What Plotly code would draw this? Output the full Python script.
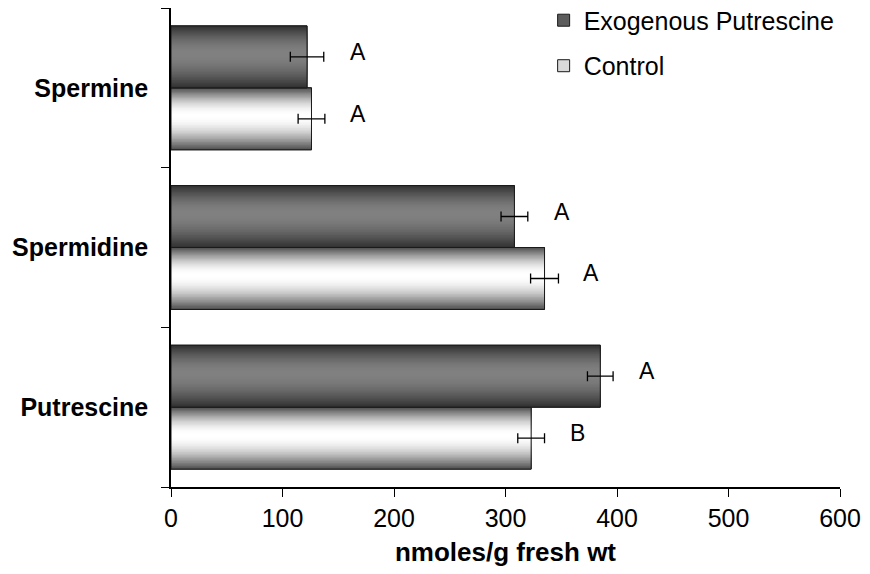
import math
import plotly.graph_objects as go

# ---- data ----
categories = ["Putrescine", "Spermidine", "Spermine"]          # bottom -> top
exo_values = [385, 308, 122]
exo_errors = [11.5, 12, 15]
exo_letters = ["A", "A", "A"]
ctrl_values = [323, 335, 126]
ctrl_errors = [12, 12.5, 12]
ctrl_letters = ["B", "A", "A"]
x_ticks = [0, 100, 200, 300, 400, 500, 600]

FONT = "Liberation Sans, Arial, sans-serif"
W = 0.388          # bar thickness (category units)
N = 22             # gradient layers
C_TOP = 0.45       # lightest line position, fraction from top of bar


def gray(v):
    v = int(round(max(0, min(255, v))))
    return f"rgb({v},{v},{v})"


fig = go.Figure()


def add_series(name, values, errors, base_offset, edge, center, legend_color, rank, group):
    # legend carrier (covered by gradient layers)
    fig.add_trace(go.Bar(
        y=categories, x=values, orientation="h", name=name,
        offset=base_offset, width=W,
        marker=dict(color=legend_color, line=dict(color="#1a1a1a", width=1)),
        legendrank=rank, legendgroup=group, showlegend=True, hoverinfo="skip"))
    # gradient layers
    for k in range(N):
        s = k / N
        smid = (k + 0.5) / N
        col = gray(edge + (center - edge) * math.sin(smid * math.pi / 2))
        fig.add_trace(go.Bar(
            y=categories, x=values, orientation="h",
            offset=base_offset + (1 - C_TOP) * W * s, width=W * (1 - s),
            marker=dict(color=col, line=dict(width=0)),
            showlegend=False, legendgroup=group, hoverinfo="skip"))
    # outline + error bars
    fig.add_trace(go.Bar(
        y=categories, x=values, orientation="h",
        offset=base_offset, width=W,
        marker=dict(color="rgba(0,0,0,0)", line=dict(color="#1a1a1a", width=1)),
        error_x=dict(type="data", array=errors, color="black", thickness=1.3, width=5),
        showlegend=False, legendgroup=group, name=name))


add_series("Control", ctrl_values, ctrl_errors, -W, 78, 255, "#d9d9d9", 2, "ctrl")
add_series("Exogenous Putrescine", exo_values, exo_errors, 0.0, 48, 128, "#5c5c5c", 1, "exo")

annotations = []
for i, cat in enumerate(categories):
    annotations.append(dict(x=exo_values[i] + exo_errors[i], y=i + W / 2, text=exo_letters[i],
                            xref="x", yref="y", showarrow=False, xshift=34, yshift=5,
                            font=dict(family=FONT, size=23, color="black")))
    annotations.append(dict(x=ctrl_values[i] + ctrl_errors[i], y=i - W / 2, text=ctrl_letters[i],
                            xref="x", yref="y", showarrow=False, xshift=33, yshift=5,
                            font=dict(family=FONT, size=23, color="black")))

fig.update_layout(
    width=870, height=574,
    margin=dict(l=171, r=30, t=8, b=87, autoexpand=False),
    barmode="overlay",
    plot_bgcolor="white", paper_bgcolor="white",
    font=dict(family=FONT, color="black"),
    showlegend=True,
    legend=dict(x=0.557, y=1.022, xanchor="left", yanchor="top",
                font=dict(family=FONT, size=25, color="black"),
                traceorder="grouped", tracegroupgap=10,
                bgcolor="rgba(0,0,0,0)"),
    annotations=annotations,
    xaxis=dict(range=[0, 600], tickvals=x_ticks, ticks="outside", ticklen=8, tickwidth=1.3,
               tickcolor="black", showline=True, linecolor="black", linewidth=1.5,
               showgrid=False, zeroline=False, automargin=False,
               tickfont=dict(family=FONT, size=25, color="black"),
               title=dict(text="nmoles/g fresh wt", standoff=12,
                          font=dict(family=FONT, size=26, color="black", weight="bold"))),
    yaxis=dict(type="category", categoryorder="array", categoryarray=categories,
               range=[-0.5, 2.5], tickson="boundaries", ticks="outside", ticklen=8,
               tickwidth=1.3, tickcolor="black", showline=True, linecolor="black",
               linewidth=1.5, showgrid=False, zeroline=False, ticklabelstandoff=16,
               automargin=False,
               tickfont=dict(family=FONT, size=25, color="black", weight="bold")),
)

fig.write_html("out.html")
